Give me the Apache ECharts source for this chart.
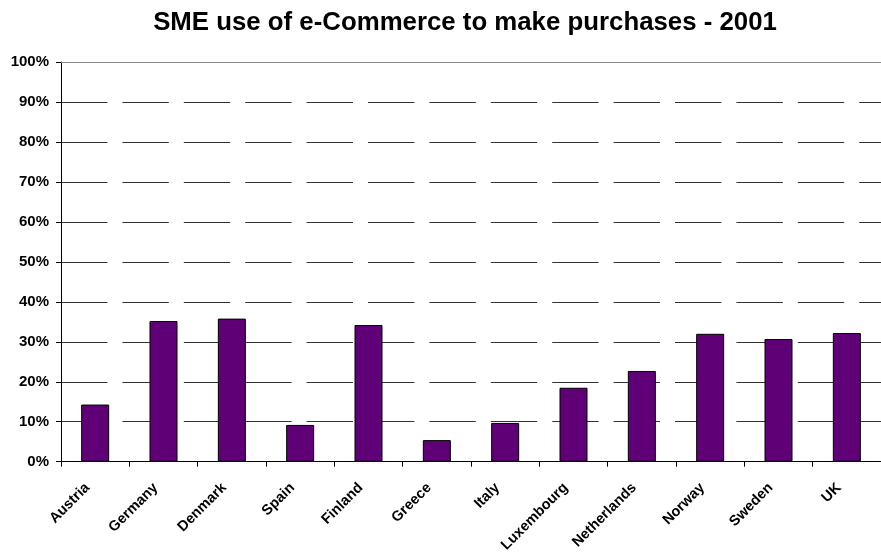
<!DOCTYPE html>
<html>
<head>
<meta charset="utf-8">
<script src="https://cdn.jsdelivr.net/npm/echarts@6/dist/echarts.min.js"></script>
<style>
  html, body { margin: 0; padding: 0; background: #ffffff; }
  #chart { width: 881px; height: 555px; }
</style>
</head>
<body>
<div id="chart"></div>
<script>
// Share of SMEs using e-Commerce to make purchases, 2001 (%)
const countries = ['Austria', 'Germany', 'Denmark', 'Spain', 'Finland', 'Greece', 'Italy',
  'Luxembourg', 'Netherlands', 'Norway', 'Sweden', 'UK'];
const shares = [14.3, 35.2, 35.8, 9.2, 34.2, 5.4, 9.7, 18.5, 22.7, 32.0, 30.7, 32.2];
const yTicks = [0, 10, 20, 30, 40, 50, 60, 70, 80, 90, 100];

const chart = echarts.init(document.getElementById('chart'));
const font = 'Liberation Sans, Arial, sans-serif';

chart.setOption({
  animation: false,
  title: {
    text: 'SME use of e-Commerce to make purchases - 2001',
    left: 460,
    textAlign: 'center',
    top: 5,
    textStyle: { fontFamily: font, fontSize: 25.8, fontWeight: 'bold', color: '#000' }
  },
  grid: { left: 61, top: 62, width: 824, height: 400, containLabel: false },
  xAxis: [{
    type: 'category',
    data: countries,
    axisLine: { lineStyle: { color: '#000', width: 1 } },
    axisTick: { show: true, length: 5, lineStyle: { color: '#000' } },
    axisLabel: {
      rotate: 45, interval: 0, margin: 16,
      padding: [0, 11, 0, 0],
      fontFamily: font, fontSize: 14.5, fontWeight: 'bold', color: '#000'
    }
  }, {
    // plain gray frame line along the top of the plot
    type: 'category',
    data: countries,
    position: 'top',
    axisLine: { lineStyle: { color: '#8a8a8a', width: 1 } },
    axisTick: { show: false },
    axisLabel: { show: false }
  }],
  yAxis: {
    type: 'value',
    min: yTicks[0],
    max: yTicks[yTicks.length - 1],
    interval: 10,
    axisLine: { show: true, lineStyle: { color: '#000', width: 1 } },
    axisTick: { show: true, length: 5, lineStyle: { color: '#000' } },
    axisLabel: {
      margin: 12,
      formatter: v => v + '%',
      fontFamily: font, fontSize: 15, fontWeight: 'bold', color: '#000'
    },
    splitLine: { show: true, lineStyle: { color: '#333', width: 1, type: [46.4, 15] } }
  },
  series: [{
    type: 'bar',
    data: shares,
    barWidth: 28,
    itemStyle: { color: '#5f0077', borderColor: '#000', borderWidth: 1 }
  }]
});
</script>
</body>
</html>
